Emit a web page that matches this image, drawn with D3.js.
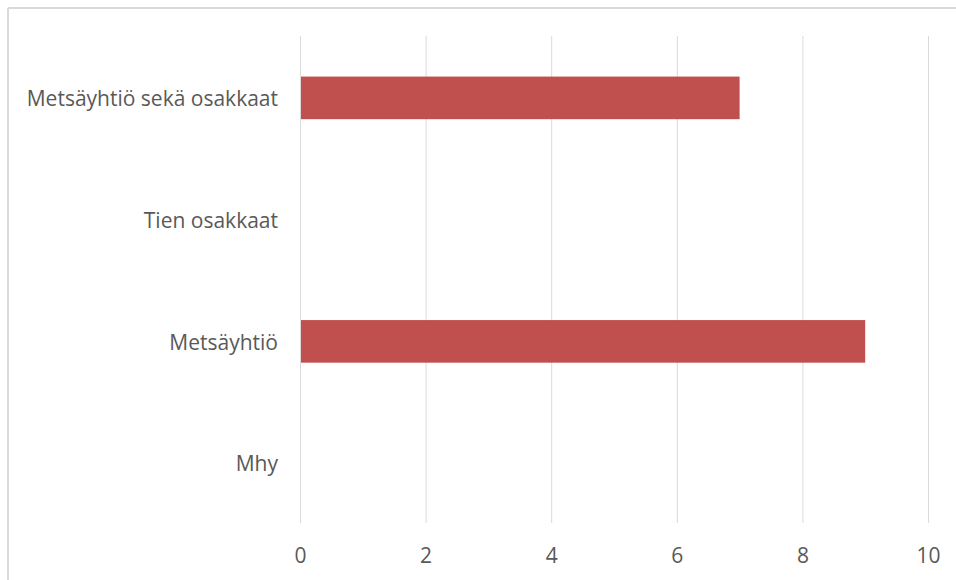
<!DOCTYPE html>
<html><head><meta charset="utf-8">
<script src="https://cdn.jsdelivr.net/npm/d3@7"></script>
<style>html,body{margin:0;padding:0;background:#fff;}svg{display:block;}</style>
</head><body>
<svg id="chart" width="956" height="580"></svg>
<script>
const categories = ["Metsäyhtiö sekä osakkaat", "Tien osakkaat", "Metsäyhtiö", "Mhy"];
const values = [7, 0, 9, 0];
const xTicks = [0, 2, 4, 6, 8, 10];

const svg = d3.select("#chart");
const W = 956, H = 580;
const font = "'Open Sans', Lato, sans-serif";
const textColor = "#595959";

// outer frame (top and left visible)
svg.append("line").attr("x1", 8).attr("x2", W).attr("y1", 8).attr("y2", 8)
  .attr("stroke", "#d9d9d9").attr("stroke-width", 2);
svg.append("line").attr("x1", 8).attr("x2", 8).attr("y1", 8).attr("y2", H)
  .attr("stroke", "#d9d9d9").attr("stroke-width", 2);

const x = d3.scaleLinear().domain([0, 10]).range([300, 928]);
const y = d3.scaleBand().domain(categories).range([36, 523]).paddingInner(0.65).paddingOuter(0.325);

// gridlines
svg.append("g").selectAll("line").data(xTicks).join("line")
  .attr("x1", d => x(d) + 0.5).attr("x2", d => x(d) + 0.5)
  .attr("y1", 36).attr("y2", 523)
  .attr("stroke", "#d9d9d9").attr("stroke-width", 1);

// bars
svg.append("g").selectAll("rect").data(categories.map((c, i) => ({c, v: values[i]})).filter(d => d.v > 0)).join("rect")
  .attr("x", x(0) + 1).attr("y", d => y(d.c) + 1)
  .attr("width", d => x(d.v) - x(0) - 1).attr("height", y.bandwidth())
  .attr("fill", "#c0504d");

// x axis labels
const xAxis = d3.axisBottom(x).tickValues(xTicks).tickSize(0).tickPadding(0);
const gx = svg.append("g").attr("transform", "translate(0,556)").call(xAxis);
gx.select(".domain").remove();
gx.selectAll("text").attr("dy", "0.35em").attr("y", 0)
  .attr("font-family", font).attr("font-size", 21).attr("fill", textColor);

// y axis labels
const yAxis = d3.axisLeft(y).tickSize(0).tickPadding(0);
const gy = svg.append("g").attr("transform", "translate(278,2.5)").call(yAxis);
gy.select(".domain").remove();
gy.selectAll("text").attr("font-family", font).attr("font-size", 21).attr("fill", textColor);
</script>
</body></html>
